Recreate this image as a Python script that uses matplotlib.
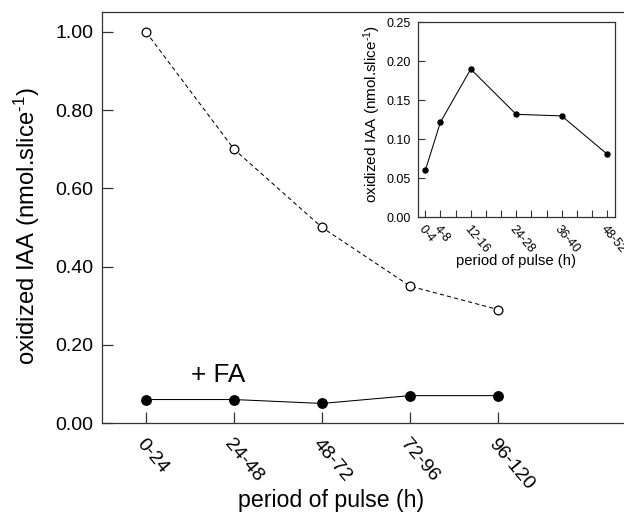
import matplotlib
matplotlib.use('Agg')
import matplotlib.pyplot as plt
from matplotlib.ticker import FormatStrFormatter

plt.rcParams['font.family'] = ['Liberation Sans', 'DejaVu Sans']
plt.rcParams['mathtext.fontset'] = 'custom'
plt.rcParams['mathtext.rm'] = 'Liberation Sans'
plt.rcParams['mathtext.it'] = 'Liberation Sans:italic'
plt.rcParams['mathtext.bf'] = 'Liberation Sans:bold'

# main panel: 24 h pulses
periods = ['0-24', '24-48', '48-72', '72-96', '96-120']
control = [1.00, 0.70, 0.50, 0.35, 0.29]
with_fa = [0.06, 0.06, 0.05, 0.07, 0.07]

# inset: 4 h pulses
inset_periods = ['0-4', '4-8', '12-16', '24-28', '36-40', '48-52']
inset_values = [0.060, 0.122, 0.190, 0.132, 0.130, 0.081]

ylabel = r'oxidized IAA (nmol.slice$^{\text{-1}}$)'
xlabel = 'period of pulse (h)'
spine_col = '#333333'


def style_axes(ax, lw):
    for side in ['left', 'bottom', 'top', 'right']:
        ax.spines[side].set_color(spine_col)
        ax.spines[side].set_linewidth(lw)


def main():
    fig = plt.figure(figsize=(6.24, 5.18), dpi=100)

    # Main axes
    ax = fig.add_axes([102 / 624, 95 / 518, 1 - 102 / 624, 411 / 518])
    style_axes(ax, 0.9)
    ax.spines['right'].set_visible(False)
    xs = list(range(len(periods)))
    ax.plot(xs, control, linestyle=(0, (4, 3)), color='black', lw=0.75,
            marker='o', markersize=6.3, markerfacecolor='white',
            markeredgecolor='black', markeredgewidth=0.9)
    ax.plot(xs, with_fa, linestyle='-', color='black', lw=0.75,
            marker='o', markersize=6.8, markerfacecolor='black',
            markeredgecolor='black')
    ax.set_xlim(-0.5, 5.43)
    ax.set_ylim(0, 1.051)
    ax.set_yticks([0.0, 0.2, 0.4, 0.6, 0.8, 1.0])
    ax.yaxis.set_major_formatter(FormatStrFormatter('%.2f'))
    ax.set_xticks(xs)
    ax.set_xticklabels(periods, rotation=-50, ha='left', va='top',
                       rotation_mode='anchor')
    ax.tick_params(axis='both', direction='in', length=8, width=0.9,
                   color=spine_col, labelsize=14)
    ax.tick_params(axis='x', pad=9, right=False, top=False)
    ax.tick_params(axis='y', pad=6, right=False)
    ax.text(0.51, 0.105, '+ FA', fontsize=18.8, va='baseline', ha='left')
    fig.text(331 / 624, 1 - 501 / 518, xlabel, fontsize=16.7,
             ha='center', va='center')
    fig.text(27 / 624, 1 - 226.5 / 518, ylabel, fontsize=17.2,
             ha='center', va='center', rotation=90)

    # Inset
    ins = fig.add_axes([417.7 / 624, 1 - 217.3 / 518, 197 / 624, 195 / 518])
    style_axes(ins, 0.9)
    mids = [sum(int(v) for v in p.split('-')) / 2 for p in inset_periods]
    ins.plot(mids, inset_values, color='black', lw=0.75, marker='o',
             markersize=3.6, markerfacecolor='black')
    ins.set_xlim(0, 52)
    ins.set_ylim(0, 0.25)
    ins.set_yticks([0.0, 0.05, 0.10, 0.15, 0.20, 0.25])
    ins.yaxis.set_major_formatter(FormatStrFormatter('%.2f'))
    tick_pos = list(range(2, 51, 4))
    tick_lab = []
    for t in tick_pos:
        lab = ''
        for m, p in zip(mids, inset_periods):
            if m == t:
                lab = p
        tick_lab.append(lab)
    ins.set_xticks(tick_pos)
    ins.set_xticklabels(tick_lab, rotation=-50, ha='left', va='top',
                        rotation_mode='anchor')
    ins.tick_params(axis='both', direction='in', length=5, width=0.8,
                    color=spine_col, labelsize=9)
    ins.tick_params(axis='x', pad=4)
    ins.tick_params(axis='y', pad=5)
    fig.text(516 / 624, 1 - 261 / 518, xlabel, fontsize=10.7,
             ha='center', va='center')
    fig.text(372 / 624, 1 - 114 / 518, ylabel, fontsize=11,
             ha='center', va='center', rotation=90)

    fig.savefig('out.png', dpi=100)


if __name__ == "__main__":
    main()
